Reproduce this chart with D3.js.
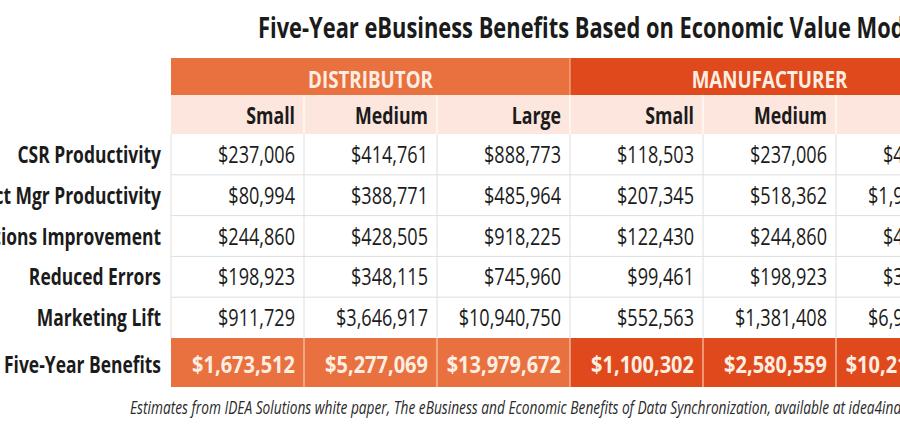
<!DOCTYPE html>
<html>
<head>
<meta charset="utf-8">
<script src="https://cdn.jsdelivr.net/npm/d3@7"></script>
<style>
  html, body { margin: 0; padding: 0; background: #ffffff; overflow: hidden; }
  svg { display: block; }
  text { font-family: "Open Sans", "Liberation Sans", "DejaVu Sans", sans-serif; }
</style>
</head>
<body>
<svg id="chart" width="900" height="425"></svg>
<script>
// ---------------- DATA ----------------
const title = "Five-Year eBusiness Benefits Based on Economic Value Models";
const segments = ["DISTRIBUTOR", "MANUFACTURER"];
const sizes = ["Small", "Medium", "Large"];
const metrics = ["CSR Productivity", "Product Mgr Productivity", "Operations Improvement", "Reduced Errors", "Marketing Lift"];
const totalLabel = "Five-Year Benefits";
// one array per column (segment x size), values in metric order
const distSmall  = [237006, 80994, 244860, 198923, 911729];
const distMedium = [414761, 388771, 428505, 348115, 3646917];
const distLarge  = [888773, 485964, 918225, 745960, 10940750];
const manSmall   = [118503, 207345, 122430, 99461, 552563];
const manMedium  = [237006, 518362, 244860, 198923, 1381408];
const manLarge   = [474012, 1942540, 489720, 397844, 6907038];
const totals     = [1673512, 5277069, 13979672, 1100302, 2580559, 10211154];
const footnote = "Estimates from IDEA Solutions white paper, The eBusiness and Economic Benefits of Data Synchronization, available at idea4industry.com";

const columns = [distSmall, distMedium, distLarge, manSmall, manMedium, manLarge];
const colSegment = [0, 0, 0, 1, 1, 1];

// ---------------- STYLE ----------------
const segFill = ["#e9703f", "#e0491b"];
const pink = "#fce6dd";
const cream = "#fdeee2";
const ink = "#1b1b1b";
const grid = "#dedede";

const svg = d3.select("#chart");
const fmt = d3.format("$,");

// scales
const x = d3.scaleBand().domain(d3.range(6)).range([171, 969]).padding(0);
const y = d3.scaleBand().domain(d3.range(metrics.length)).range([134, 338]).padding(0);
const head1 = [58, 95], head2 = [95, 134], totalRow = [338, 387];

// calibrate horizontal condensing so glyph widths match
function makeStyle(size, weight, italic, ref, target) {
  const t = svg.append("text").attr("font-size", size).attr("font-weight", weight)
    .attr("font-style", italic ? "italic" : "normal").text(ref);
  const w = t.node().getComputedTextLength();
  t.remove();
  return { size, weight, italic, sx: target / w };
}
const stTitle = makeStyle(28, 700, false, "Five-Year eBusiness Benefits Based on Economic Value Mod", 647);
const stHead  = makeStyle(23, 700, false, "DISTRIBUTOR", 125);
const stSub   = makeStyle(23, 700, false, "Medium", 73);
const stLabel = makeStyle(23, 700, false, "Five-Year Benefits", 157);
const stVal   = makeStyle(23, 400, false, "$237,006", 77);
const stTot   = makeStyle(23, 700, false, "$1,673,512", 103);
const stFoot  = makeStyle(19, 400, true, "Estimates from IDEA Solutions white paper, The eBusiness and Economic Benefits of Data Synchronization, available at idea4ind", 772);

function put(g, st, px, py, str, anchor, fill) {
  return g.append("text")
    .attr("transform", `translate(${px},${py}) scale(${st.sx},1)`)
    .attr("text-anchor", anchor)
    .attr("font-size", st.size)
    .attr("font-weight", st.weight)
    .attr("font-style", st.italic ? "italic" : "normal")
    .attr("fill", fill)
    .text(str);
}

// ---------------- TITLE ----------------
put(svg, stTitle, 258, 38, title, "start", ink);

// ---------------- HEADER ROW 1 (segments) ----------------
const gH = svg.append("g");
segments.forEach((s, i) => {
  const x0 = x(i * 3), x1 = x(i * 3 + 2) + x.bandwidth();
  gH.append("rect").attr("x", x0).attr("y", head1[0]).attr("width", x1 - x0)
    .attr("height", head1[1] - head1[0]).attr("fill", segFill[i]);
  put(gH, stHead, (x0 + x1) / 2, 88, s, "middle", cream);
});
gH.append("line").attr("x1", x(3)).attr("x2", x(3)).attr("y1", head1[0]).attr("y2", head1[1])
  .attr("stroke", "#f6c2a8").attr("stroke-width", 1);

// ---------------- HEADER ROW 2 (sizes) ----------------
const gS = svg.append("g");
gS.append("rect").attr("x", x(0)).attr("y", head2[0]).attr("width", x.range()[1] - x(0))
  .attr("height", head2[1] - head2[0]).attr("fill", pink);
d3.range(6).forEach(c => {
  if (c > 0) gS.append("line").attr("x1", x(c)).attr("x2", x(c)).attr("y1", head2[0]).attr("y2", head2[1])
    .attr("stroke", "#ffffff").attr("stroke-width", 1.2);
  put(gS, stSub, x(c) + x.bandwidth() - 9, 124, sizes[c % 3], "end", ink);
});

// ---------------- DATA ROWS ----------------
const gD = svg.append("g");
metrics.forEach((m, r) => {
  const yc = y(r) + y.bandwidth() / 2;
  if (r > 0) gD.append("line").attr("x1", x(0)).attr("x2", 900).attr("y1", y(r)).attr("y2", y(r))
    .attr("stroke", grid).attr("stroke-width", 1);
  put(gD, stLabel, 161, yc + 8.5, m, "end", ink);
  columns.forEach((col, c) => {
    put(gD, stVal, x(c) + x.bandwidth() - 9, yc + 8.5, fmt(col[r]), "end", ink);
  });
});
d3.range(6).forEach(c => {
  gD.append("line").attr("x1", x(c)).attr("x2", x(c)).attr("y1", head2[1]).attr("y2", totalRow[0])
    .attr("stroke", grid).attr("stroke-width", 1);
});

// ---------------- TOTAL ROW ----------------
const gT = svg.append("g");
put(gT, stLabel, 161, 373, totalLabel, "end", ink);
totals.forEach((v, c) => {
  gT.append("rect").attr("x", x(c)).attr("y", totalRow[0]).attr("width", x.bandwidth())
    .attr("height", totalRow[1] - totalRow[0]).attr("fill", segFill[colSegment[c]]);
  put(gT, stTot, x(c) + x.bandwidth() - 9, 373, fmt(v), "end", cream);
});
d3.range(1, 6).forEach(c => {
  gT.append("line").attr("x1", x(c)).attr("x2", x(c)).attr("y1", totalRow[0]).attr("y2", totalRow[1])
    .attr("stroke", "#f7cbb4").attr("stroke-width", 1.2);
});

// ---------------- FOOTNOTE ----------------
put(svg, stFoot, 130, 414, footnote, "start", "#2a2a2a");
</script>
</body>
</html>
